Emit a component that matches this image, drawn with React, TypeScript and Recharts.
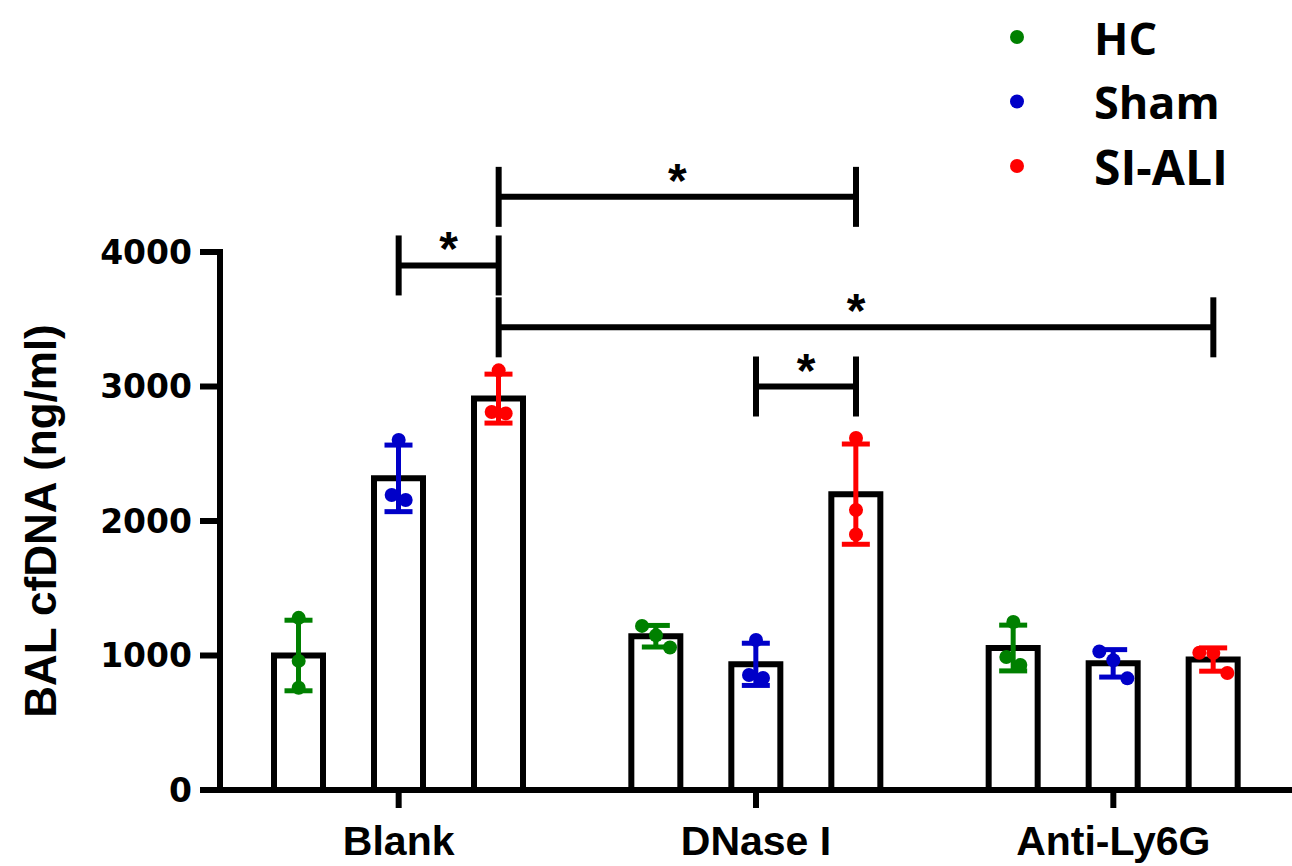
import { ComposedChart, Bar, XAxis, YAxis, Scatter, ErrorBar, ReferenceLine } from 'recharts';

const groups = ['Blank', 'DNase I', 'Anti-Ly6G'];
const seriesNames = ['HC', 'Sham', 'SI-ALI'];
const seriesKeys = ['hc', 'sham', 'siAli'];
const seriesColors = ['#008000', '#0000c8', '#ff0000'];

// three replicates per group, one list per group
const hcValues = [[1280, 960, 760], [1220, 1150, 1060], [1249, 989, 929]];
const shamValues = [[2602, 2193, 2156], [1115, 855, 833], [1030, 965, 830]];
const siAliValues = [[3120, 2810, 2800], [2617, 2082, 1900], [1021, 1019, 870]];

const yTicks = [0, 1000, 2000, 3000, 4000];

// significance brackets: [group, series] to [group, series] at a given height
const comparisons = [
  { from: [0, 1], to: [0, 2], level: 3900, text: '*' },
  { from: [0, 2], to: [1, 2], level: 4410, text: '*' },
  { from: [0, 2], to: [2, 2], level: 3440, text: '*' },
  { from: [1, 1], to: [1, 2], level: 3000, text: '*' },
];

const W = 1292;
const H = 866;
const PLOT_LEFT = 220;
const PLOT_TOP = 252;
const X_AXIS_H = 76;
const BAR_SIZE = 49;
const BAR_GAP = 51;
const Y_MAX = 4000;
const FONT = '"Liberation Sans", Arial, sans-serif';

const plotW = W - PLOT_LEFT;
const plotH = H - PLOT_TOP - X_AXIS_H;
const bandPx = plotW / groups.length;
const unitsPerPx = Y_MAX / plotH;

const seriesValues = [hcValues, shamValues, siAliValues];

const mean = (a: number[]) => a.reduce((s, v) => s + v, 0) / a.length;
const sd = (a: number[]) => {
  const m = mean(a);
  return Math.sqrt(a.reduce((s, v) => s + (v - m) ** 2, 0) / (a.length - 1));
};

const chartData = groups.map((g, gi) => {
  const row: Record<string, any> = { group: g };
  seriesKeys.forEach((k, si) => {
    row[k] = mean(seriesValues[si][gi]);
    row[k + 'Sd'] = sd(seriesValues[si][gi]);
  });
  return row;
});

// x position (in group units) of a bar centre
const barX = (gi: number, si: number) => gi + 0.5 + ((si - 1) * (BAR_SIZE + BAR_GAP)) / bandPx;

// spread overlapping dots sideways, like a dot plot
const spread = (vals: number[]) => {
  const order = vals.map((v, i) => i).sort((a, b) => vals[b] - vals[a]);
  const out = new Array(vals.length).fill(0);
  const clusters: number[][] = [];
  order.forEach((idx, k) => {
    if (k > 0 && (vals[order[k - 1]] - vals[idx]) / unitsPerPx < 21) {
      clusters[clusters.length - 1].push(idx);
    } else {
      clusters.push([idx]);
    }
  });
  clusters.forEach((c) => {
    c.forEach((idx, k) => {
      out[idx] = ((k - (c.length - 1) / 2) * 14) / bandPx;
    });
  });
  return out;
};

const scatterData = seriesValues.map((byGroup, si) =>
  byGroup.flatMap((vals, gi) => {
    const off = spread(vals);
    return vals.map((v, i) => ({ x: barX(gi, si) + off[i], y: v }));
  })
);

const tickHalf = 30 * unitsPerPx;

const YLabel = (props: any) => {
  const { viewBox } = props;
  const cx = viewBox.x + 40;
  const cy = viewBox.y + viewBox.height / 2;
  return (
    <text
      x={cx}
      y={cy}
      transform={`rotate(-90, ${cx}, ${cy})`}
      textAnchor="middle"
      dominantBaseline="central"
      fontFamily={FONT}
      fontWeight={700}
      fontSize={44}
      fill="#000"
    >
      BAL cfDNA (ng/ml)
    </text>
  );
};

export default function App() {
  return (
    <div
      style={{
        position: 'absolute',
        left: 0,
        top: 0,
        width: W,
        height: H,
        overflow: 'hidden',
        background: '#fff',
      }}
    >
      <ComposedChart
        width={W}
        height={H}
        data={chartData}
        margin={{ top: PLOT_TOP, right: 0, bottom: 0, left: 0 }}
        barSize={BAR_SIZE}
        barGap={BAR_GAP}
      >
        <XAxis
          dataKey="group"
          height={X_AXIS_H}
          tickSize={18}
          tickMargin={18}
          axisLine={{ stroke: '#000', strokeWidth: 6, strokeLinecap: 'square' }}
          tickLine={{ stroke: '#000', strokeWidth: 6 }}
          tick={{ fill: '#000', fontSize: 41, fontWeight: 700, fontFamily: FONT }}
        />
        <XAxis xAxisId="num" type="number" dataKey="x" domain={[0, groups.length]} hide />
        <YAxis
          domain={[0, Y_MAX]}
          ticks={yTicks}
          allowDataOverflow
          width={PLOT_LEFT}
          tickSize={20}
          tickMargin={8}
          axisLine={{ stroke: '#000', strokeWidth: 6, strokeLinecap: 'square' }}
          tickLine={{ stroke: '#000', strokeWidth: 6 }}
          tick={{ fill: '#000', fontSize: 33, fontWeight: 700, fontFamily: '"DejaVu Sans", sans-serif' }}
          label={{ value: 'BAL cfDNA (ng/ml)', content: YLabel }}
        />
        {seriesKeys.map((k, si) => (
          <Bar
            key={k}
            dataKey={k}
            name={seriesNames[si]}
            fill="#fff"
            stroke="#000"
            strokeWidth={6}
            isAnimationActive={false}
          >
            <ErrorBar
              dataKey={k + 'Sd'}
              direction="y"
              width={14}
              strokeWidth={5}
              stroke={seriesColors[si]}
            />
          </Bar>
        ))}
        {seriesKeys.map((k, si) => (
          <Scatter
            key={k + '-dots'}
            xAxisId="num"
            data={scatterData[si]}
            dataKey="y"
            name={seriesNames[si]}
            fill={seriesColors[si]}
            isAnimationActive={false}
            shape={(p: any) => <circle cx={p.cx} cy={p.cy} r={7} fill={seriesColors[si]} />}
          />
        ))}
        {comparisons.map((c, i) => {
          const xa = barX(c.from[0], c.from[1]);
          const xb = barX(c.to[0], c.to[1]);
          return [
            <ReferenceLine
              key={'h' + i}
              xAxisId="num"
              ifOverflow="visible"
              stroke="#000"
              strokeWidth={6}
              segment={[
                { x: xa, y: c.level },
                { x: xb, y: c.level },
              ]}
              label={{
                value: c.text,
                position: 'top',
                offset: 0,
                fill: '#000',
                fontSize: 48,
                fontWeight: 700,
                fontFamily: FONT,
              }}
            />,
            <ReferenceLine
              key={'a' + i}
              xAxisId="num"
              ifOverflow="visible"
              stroke="#000"
              strokeWidth={6}
              segment={[
                { x: xa, y: c.level - tickHalf },
                { x: xa, y: c.level + tickHalf },
              ]}
            />,
            <ReferenceLine
              key={'b' + i}
              xAxisId="num"
              ifOverflow="visible"
              stroke="#000"
              strokeWidth={6}
              segment={[
                { x: xb, y: c.level - tickHalf },
                { x: xb, y: c.level + tickHalf },
              ]}
            />,
          ];
        })}
      </ComposedChart>
      <svg
        width={W}
        height={H}
        style={{ position: 'absolute', left: 0, top: 0, pointerEvents: 'none' }}
      >
        {seriesNames.map((n, i) => (
          <g key={n}>
            <circle cx={1017} cy={37 + i * 64.5} r={7} fill={seriesColors[i]} />
            <text
              x={1094}
              y={37 + i * 64.5}
              dominantBaseline="central"
              fontFamily='"Open Sans", sans-serif'
              fontWeight={700}
              fontSize={i === seriesNames.length - 1 ? 48 : 45}
              fill="#000"
            >
              {n}
            </text>
          </g>
        ))}
      </svg>
    </div>
  );
}
